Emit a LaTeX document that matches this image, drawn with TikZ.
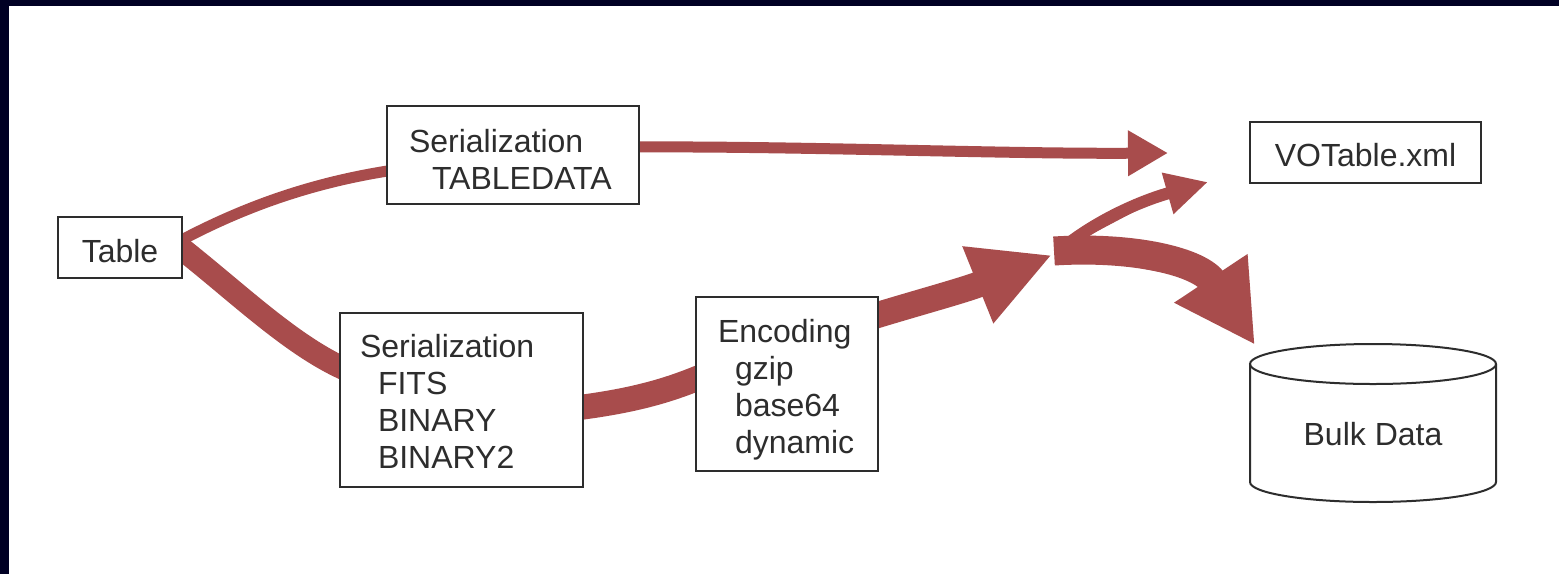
\documentclass[tikz,border=0pt]{standalone}
\usepackage{fontspec}
\setmainfont{Liberation Sans}
\usetikzlibrary{arrows.meta,calc}
\pgfdeclarelayer{back}
\pgfdeclarelayer{bg}
\pgfsetlayers{back,bg,main}
\definecolor{flow}{RGB}{168,76,76}
\definecolor{frame}{RGB}{0,0,36}
\definecolor{ink}{RGB}{45,45,45}
\begin{document}
\begin{tikzpicture}[x=0.5pt,y=-0.5pt,
  box/.style={draw=ink, line width=1pt, fill=white, text=ink, inner sep=0pt,
    font=\fontsize{16}{18.5}\selectfont},
  mbox/.style={box, align=left},
  flowline/.style={draw=flow, fill=flow, line cap=butt}
]
\useasboundingbox (0,0) rectangle (1559,574);
\begin{pgfonlayer}{back}
\fill[white] (0,0) rectangle (1559,574);
\fill[frame] (0,0) rectangle (1559,6);
\fill[frame] (0,0) rectangle (9,574);
\end{pgfonlayer}

% nodes
\node[box, minimum width=62pt, minimum height=30.5pt, text height=15pt, text depth=0pt] (tab) at (120,247.5) {Table};
\node[mbox, inner xsep=11pt, text width=104pt, minimum height=49pt, text height=15.5pt, text depth=18.5pt] (ser1) at (513,155)
  {Serialization\\\hspace*{11.5pt}TABLEDATA};
\node[mbox, inner xsep=10pt, text width=101.5pt, minimum height=87pt, text height=13pt, text depth=55.5pt] (ser2) at (461.5,400)
  {Serialization\\\hspace*{9pt}FITS\\\hspace*{9pt}BINARY\\\hspace*{9pt}BINARY2};
\node[mbox, inner xsep=11pt, text width=69pt, minimum height=87pt, text height=14pt, text depth=55.5pt] (enc) at (787,384)
  {Encoding\\\hspace*{8.5pt}gzip\\\hspace*{8.5pt}base64\\\hspace*{8.5pt}dynamic};
\node[box, minimum width=115.5pt, minimum height=30.5pt, text height=14pt, text depth=0pt] (vot) at (1365.5,152.5) {VOTable.xml};
\node[box, draw=none, fill=none, outer sep=0pt, minimum width=123pt, minimum height=59pt, text height=22.5pt, text depth=0pt] (bulk) at (1373,423) {Bulk Data};
\draw[ink, line width=1pt] (bulk.north west) -- (bulk.south west)
  arc[start angle=180, end angle=360, x radius=61.5pt, y radius=10pt] -- (bulk.north east);
\draw[ink, line width=1pt] (bulk.north) ellipse[x radius=61.5pt, y radius=10pt];

\coordinate (vott) at (1168,153);
\coordinate (j) at (1052,255);
\coordinate (vtip) at (1208,182);
\coordinate (btip) at (1255,345);

\begin{pgfonlayer}{bg}
\draw[flowline, fill=none, line width=5.5pt] ($(tab.east)+(-8,-4)$) .. controls (230,214) and (300,184) .. ($(ser1.west)+(8,15)$);
\draw[flowline, line width=5.5pt, -{Triangle[length=20pt,width=21.5pt]}] ($(ser1.east)+(-8,-8)$) .. controls (800,146) and (1000,154) .. (vott);
\draw[flowline, fill=none, line width=11.5pt] ($(tab.east)+(-8,-4)$) .. controls (235,290) and (290,345) .. ($(ser2.west)+(8,-30)$);
\draw[flowline, fill=none, line width=12.5pt] ($(ser2.east)+(-8,8)$) .. controls (630,401) and (665,392) .. ($(enc.west)+(8,-8)$);
\draw[flowline, line width=13pt, -{Triangle[length=40pt,width=38.5pt]}] ($(enc.east)+(-8,-67)$) .. controls (920,302) and (965,290) .. (j);
\draw[flowline, line width=6pt, -{Triangle[length=21pt,width=20pt]}] ($(j)+(6,-3)$) .. controls (1085,228) and (1130,204) .. (vtip);
\draw[flowline, line width=14.5pt, -{Triangle[length=40pt,width=41pt]}] ($(j)+(2,-4)$) .. controls (1135,246) and (1200,262) .. (btip);
\end{pgfonlayer}
\end{tikzpicture}
\end{document}
